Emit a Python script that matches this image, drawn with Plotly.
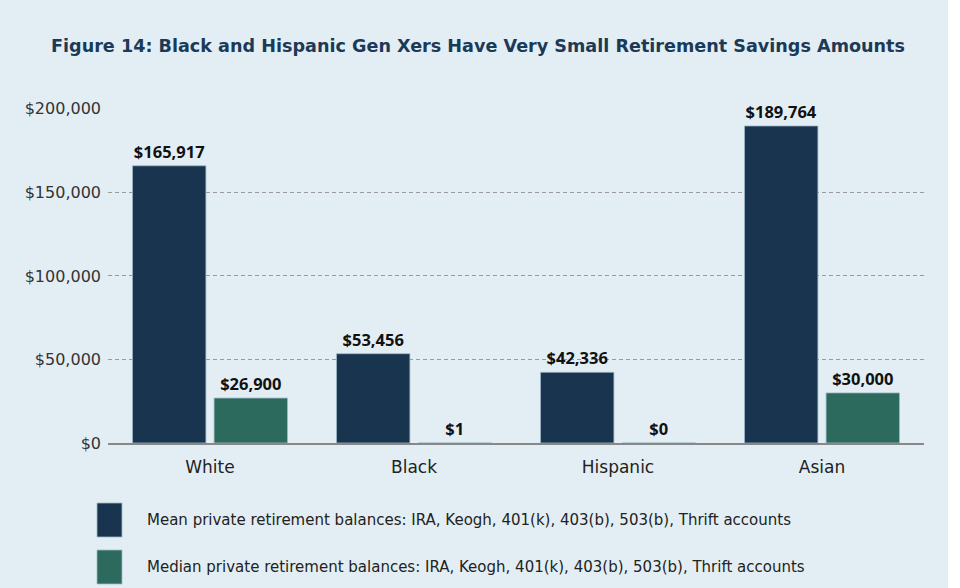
import plotly.graph_objects as go

categories = ["White", "Black", "Hispanic", "Asian"]
mean_vals = [165917, 53456, 42336, 189764]
median_vals = [26900, 1, 0, 30000]
series_names = [
    "Mean private retirement balances: IRA, Keogh, 401(k), 403(b), 503(b), Thrift accounts",
    "Median private retirement balances: IRA, Keogh, 401(k), 403(b), 503(b), Thrift accounts",
]
tick_vals = [0, 50000, 100000, 150000, 200000]
tick_text = ["$0", "$50,000", "$100,000", "$150,000", "$200,000"]
title_text = "Figure 14: Black and Hispanic Gen Xers Have Very Small Retirement Savings Amounts"

BG = "#e3eef4"
C_MEAN = "#19344f"
C_MED = "#2d6a5e"
FONT = "DejaVu Sans"
LFONT = "Open Sans"

fig = go.Figure()
for vals, name, col in [(mean_vals, series_names[0], C_MEAN), (median_vals, series_names[1], C_MED)]:
    fig.add_trace(go.Bar(
        x=categories, y=vals, name=name,
        marker=dict(color=col, line=dict(color="rgba(160,185,200,0.8)", width=1)),
        text=[f"${v:,.0f}" for v in vals], textposition="outside",
        textfont=dict(family=LFONT, size=16.5, color="#111111", weight="bold"),
        cliponaxis=False, showlegend=False,
    ))

fig.update_layout(
    width=960, height=588,
    margin=dict(l=108, r=36, t=108, b=145),
    paper_bgcolor=BG, plot_bgcolor=BG,
    barmode="group", bargap=0.2, bargroupgap=0.1,
    font=dict(family=FONT, color="#333333"),
    title=dict(text=title_text, x=478 / 960, xref="container", xanchor="center", y=0.922, yanchor="middle",
               font=dict(family=FONT, size=17.6, color="#1b3a57", weight="bold")),
    xaxis=dict(showgrid=False, showline=True, linecolor="#888888", linewidth=2,
               tickfont=dict(family=FONT, size=17, color="#222222"), ticks="",
               ticklabelstandoff=8),
    yaxis=dict(range=[0, 200500], tickvals=tick_vals, ticktext=tick_text,
               showgrid=True, gridcolor="#9a9a9a", griddash="4px,3px", gridwidth=1,
               zeroline=False, showline=False, ticks="", ticklabelstandoff=6,
               tickfont=dict(family=FONT, size=16, color="#333333")),
)

# legend drawn manually to match the large swatches
legend_y = [520, 567]
for i, (name, col) in enumerate([(series_names[0], C_MEAN), (series_names[1], C_MED)]):
    yc = 1 - (legend_y[i] - 108) / 335
    h = 17 / 335
    fig.add_shape(type="rect", xref="paper", yref="paper",
                  x0=(97 - 108) / 816, x1=(122 - 108) / 816, y0=yc - h, y1=yc + h,
                  fillcolor=col, line=dict(color="rgba(160,185,200,0.8)", width=1))
    fig.add_annotation(text=name, xref="paper", yref="paper", x=(145 - 108) / 816, y=yc,
                       xanchor="left", yanchor="middle", showarrow=False,
                       font=dict(family=FONT, size=15, color="#222222"))

# white strip on the right edge
fig.add_shape(type="rect", xref="paper", yref="paper", x0=(948 - 108) / 816, x1=1.2,
              y0=-1, y1=2, fillcolor="white", line=dict(width=0), layer="below")

fig.write_html("out.html", config={"displayModeBar": False},
               post_script="document.body.style.margin='0';")
